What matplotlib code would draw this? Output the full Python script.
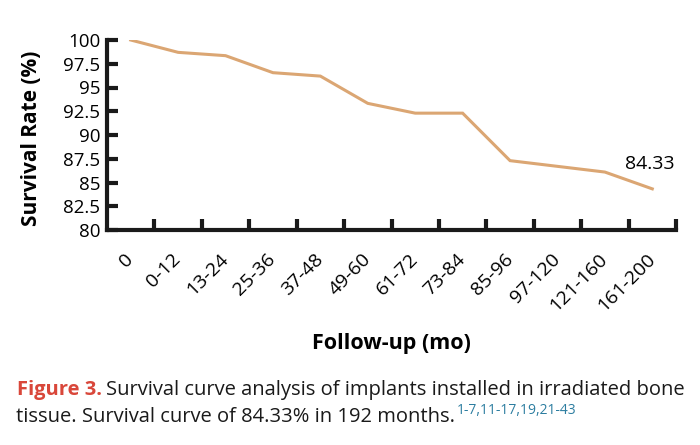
import matplotlib
matplotlib.use("Agg")
import matplotlib.pyplot as plt
import numpy as np

categories = ["0", "0-12", "13-24", "25-36", "37-48", "49-60", "61-72",
              "73-84", "85-96", "97-120", "121-160", "161-200"]
survival = [100, 98.7, 98.35, 96.56, 96.2, 93.33, 92.3, 92.3, 87.3, 86.7, 86.1, 84.33]
yticks = [80, 82.5, 85, 87.5, 90, 92.5, 95, 97.5, 100]
ytick_labels = ["80", "82.5", "85", "87.5", "90", "92.5", "95", "97.5", "100"]
end_label = "84.33"

FONT = "Open Sans"
plt.rcParams["font.family"] = [FONT, "DejaVu Sans"]

fig = plt.figure(figsize=(7.0, 4.45), dpi=100)
ax = fig.add_axes([107/700, 1-230/445, (676-107)/700, 190/445])

x = np.arange(len(categories))
ax.plot(x, survival, color="#DBA673", lw=2.2, solid_joinstyle="miter")
ax.set_xlim(-0.5, len(categories) - 0.5)
ax.set_ylim(80, 100)

for s in ["top", "right"]:
    ax.spines[s].set_visible(False)
for s in ["left", "bottom"]:
    ax.spines[s].set_linewidth(3)
    ax.spines[s].set_color("#1a1a1a")

ax.set_yticks(yticks)
ax.set_yticklabels(ytick_labels, fontsize=13.5)
ax.tick_params(axis="y", direction="in", length=8, width=3, color="#1a1a1a", pad=5)

# ticks at category boundaries, labels at category centres
ax.set_xticks(np.arange(len(categories)) + 0.5)
ax.set_xticklabels([])
ax.set_xticks(x, minor=True)
ax.set_xticklabels(categories, minor=True, rotation=45, ha="right",
                   va="center", rotation_mode="anchor", fontsize=14)
ax.tick_params(axis="x", which="major", direction="in", length=8, width=3,
               color="#1a1a1a")
ax.tick_params(axis="x", which="minor", length=0, pad=19)

ax.set_ylabel("Survival Rate (%)", fontsize=15, fontweight="bold", va="center")
ax.yaxis.set_label_coords((32-107)/569, (230-138)/190)
ax.set_xlabel("Follow-up (mo)", fontsize=15.5, fontweight="bold", va="center")
ax.xaxis.set_label_coords(0.5, (230-343)/190)

ax.annotate(end_label, (x[-1], survival[-1]), xytext=(-2, 18),
            textcoords="offset points", ha="center", va="center", fontsize=14)

# caption
fig.canvas.draw()
r = fig.canvas.get_renderer()
def place(xpx, ypx, s, **kw):
    t = fig.text(xpx/700, 1-ypx/445, s, va="baseline", ha="left", **kw)
    bb = t.get_window_extent(r)
    return bb.x1

cap_fs = 14.5
xe = place(17, 395, "Figure 3.", color="#D9473A", fontweight="bold", fontsize=cap_fs)
xe = place(xe + 4, 395, "Survival curve analysis of implants installed in irradiated bone",
           color="#1a1a1a", fontsize=cap_fs)
xe = place(16, 422, "tissue. Survival curve of 84.33% in 192 months.", color="#1a1a1a",
           fontsize=cap_fs)
place(xe + 2, 414, "1-7,11-17,19,21-43", color="#2C7DA0", fontsize=10)

fig.savefig("out.png", dpi=100)
